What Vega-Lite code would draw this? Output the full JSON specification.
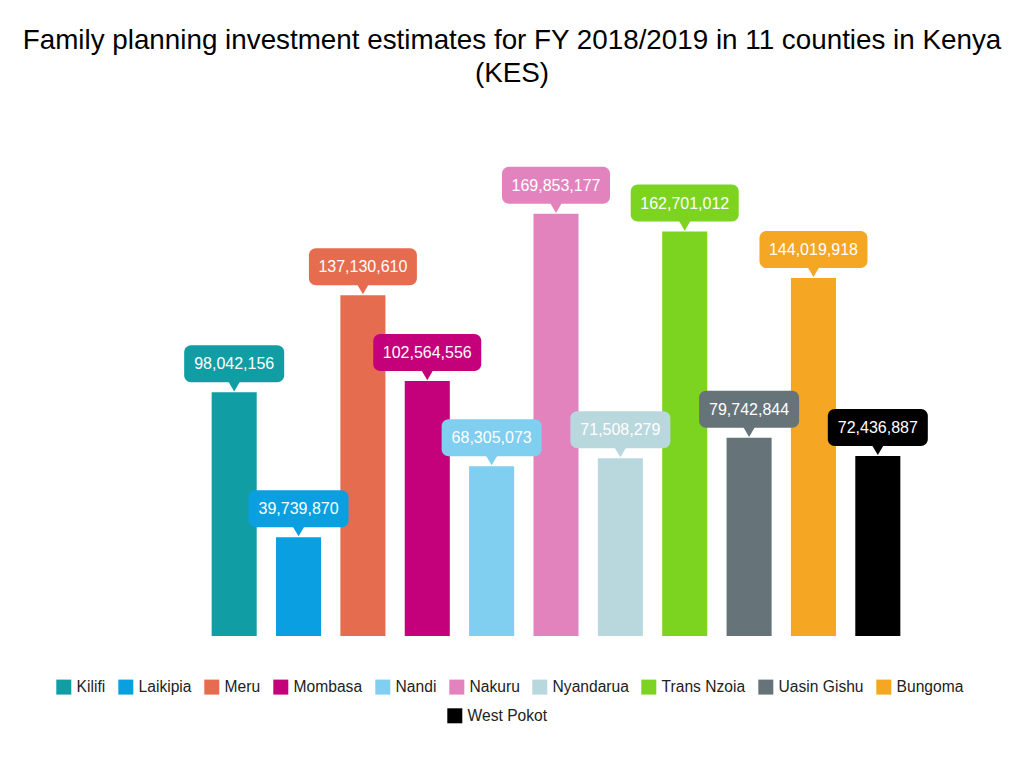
{
  "$schema": "https://vega.github.io/schema/vega-lite/v6.json",
  "width": 708,
  "height": 476,
  "autosize": {"type": "none"},
  "padding": {"left": 202, "top": 160, "right": 114, "bottom": 132},
  "background": "white",
  "config": {"view": {"stroke": null}},
  "title": {
    "text": ["Family planning investment estimates for FY 2018/2019 in 11 counties in Kenya", "(KES)"],
    "font": "Liberation Sans",
    "fontSize": 27.8,
    "fontWeight": "normal",
    "color": "#000000",
    "lineHeight": 33,
    "anchor": "middle",
    "dx": -44,
    "offset": 72
  },
  "data": {
    "values": [
      {"county": "Kilifi", "value": 98042156},
      {"county": "Laikipia", "value": 39739870},
      {"county": "Meru", "value": 137130610},
      {"county": "Mombasa", "value": 102564556},
      {"county": "Nandi", "value": 68305073},
      {"county": "Nakuru", "value": 169853177},
      {"county": "Nyandarua", "value": 71508279},
      {"county": "Trans Nzoia", "value": 162701012},
      {"county": "Uasin Gishu", "value": 79742844},
      {"county": "Bungoma", "value": 144019918},
      {"county": "West Pokot", "value": 72436887}
    ]
  },
  "transform": [
    {"calculate": "format(datum.value, ',')", "as": "label"},
    {"calculate": "length(datum.label)", "as": "len"}
  ],
  "encoding": {
    "x": {
      "field": "county", "type": "nominal", "sort": null, "axis": null,
      "scale": {
        "domain": ["Kilifi", "Laikipia", "Meru", "Mombasa", "Nandi", "Nakuru", "Nyandarua", "Trans Nzoia", "Uasin Gishu", "Bungoma", "West Pokot"],
        "paddingInner": 0.3, "paddingOuter": 0.15
      }
    },
    "y": {"field": "value", "type": "quantitative", "axis": null, "scale": {"domain": [0, 191500000], "nice": false}}
  },
  "layer": [
    {
      "transform": [{"filter": "datum.county != 'West Pokot'"}],
      "mark": {"type": "bar"},
      "encoding": {
        "color": {
          "field": "county", "type": "nominal",
          "scale": {
            "domain": ["Kilifi", "Laikipia", "Meru", "Mombasa", "Nandi", "Nakuru", "Nyandarua", "Trans Nzoia", "Uasin Gishu", "Bungoma"],
            "range": ["#119DA4", "#0A9FE0", "#E56C4E", "#C4017A", "#80CEF0", "#E283BE", "#B8D8DD", "#7CD320", "#667379", "#F5A623"]
          },
          "legend": {
            "orient": "none", "legendX": -146, "legendY": 519,
            "direction": "horizontal", "title": null,
            "symbolType": "square", "symbolSize": 225, "symbolStrokeWidth": 0,
            "labelFont": "Liberation Sans", "labelFontSize": 15.6, "labelColor": "#222222",
            "labelOffset": 5, "columnPadding": 12, "padding": 0
          }
        }
      }
    },
    {
      "transform": [{"filter": "datum.county == 'West Pokot'"}],
      "mark": {"type": "bar"},
      "encoding": {
        "color": {
          "field": "county", "type": "nominal",
          "scale": {"domain": ["West Pokot"], "range": ["#000000"]},
          "legend": {
            "orient": "none", "legendX": 245, "legendY": 548,
            "direction": "horizontal", "title": null,
            "symbolType": "square", "symbolSize": 225, "symbolStrokeWidth": 0,
            "labelFont": "Liberation Sans", "labelFontSize": 15.6, "labelColor": "#222222",
            "labelOffset": 5, "columnPadding": 12, "padding": 0
          }
        }
      }
    },
    {
      "mark": {"type": "bar", "yOffset": -47, "y2Offset": -10, "cornerRadius": 7},
      "encoding": {
        "y2": {"field": "value"},
        "size": {"field": "len", "type": "quantitative", "scale": {"domain": [10, 11], "range": [100, 108]}, "legend": null},
        "color": {
          "field": "county", "type": "nominal",
          "scale": {
            "domain": ["Kilifi", "Laikipia", "Meru", "Mombasa", "Nandi", "Nakuru", "Nyandarua", "Trans Nzoia", "Uasin Gishu", "Bungoma", "West Pokot"],
            "range": ["#119DA4", "#0A9FE0", "#E56C4E", "#C4017A", "#80CEF0", "#E283BE", "#B8D8DD", "#7CD320", "#667379", "#F5A623", "#000000"]
          },
          "legend": null
        }
      }
    },
    {
      "mark": {"type": "point", "filled": true, "opacity": 1, "size": 196, "yOffset": -3, "strokeWidth": 0, "shape": "M-1,-1.4L1,-1.4L0,0.3Z"},
      "encoding": {
        "color": {
          "field": "county", "type": "nominal",
          "scale": {
            "domain": ["Kilifi", "Laikipia", "Meru", "Mombasa", "Nandi", "Nakuru", "Nyandarua", "Trans Nzoia", "Uasin Gishu", "Bungoma", "West Pokot"],
            "range": ["#119DA4", "#0A9FE0", "#E56C4E", "#C4017A", "#80CEF0", "#E283BE", "#B8D8DD", "#7CD320", "#667379", "#F5A623", "#000000"]
          },
          "legend": null
        }
      }
    },
    {
      "mark": {"type": "text", "dy": -28, "color": "white", "font": "Liberation Sans", "fontSize": 16, "baseline": "middle", "align": "center"},
      "encoding": {"text": {"field": "label"}}
    }
  ],
  "resolve": {"scale": {"color": "independent"}}
}
